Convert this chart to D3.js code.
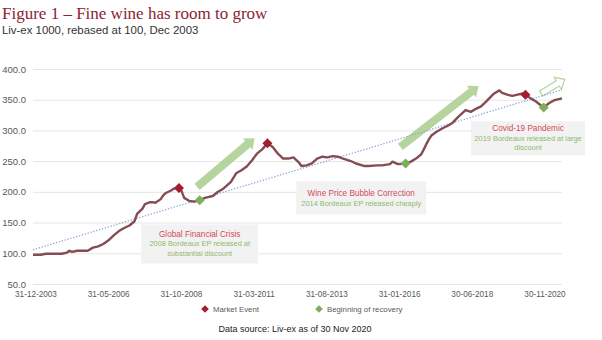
<!DOCTYPE html>
<html>
<head>
<meta charset="utf-8">
<script src="https://cdn.jsdelivr.net/npm/d3@7"></script>
<style>
  body { margin: 0; background: #fff; }
  svg text { font-family: "Liberation Sans", Arial, sans-serif; }
</style>
</head>
<body>
<svg id="chart" width="602" height="340"></svg>
<script>
// Liv-ex 1000 monthly readings (month, index value)
const months = ["2003-12","2004-03","2004-05","2004-11","2005-01","2005-02","2005-03","2005-05","2005-09","2005-11",
  "2006-01","2006-03","2006-05","2006-07","2006-09","2006-11","2007-01","2007-03","2007-04","2007-06",
  "2007-07","2007-09","2007-10","2007-11","2008-01","2008-02","2008-03","2008-05","2008-06","2008-08",
  "2008-09","2008-10","2008-12","2009-02","2009-04","2009-06","2009-09","2009-11","2010-01","2010-04",
  "2010-06","2010-08","2010-10","2010-12","2011-02","2011-04","2011-06","2011-08","2011-10","2011-12",
  "2012-02","2012-04","2012-06","2012-07","2012-09","2012-11","2013-01","2013-03","2013-05","2013-07",
  "2013-09","2013-11","2014-02","2014-04","2014-07","2014-09","2014-12","2015-02","2015-05","2015-06",
  "2015-08","2015-11","2016-01","2016-03","2016-05","2016-06","2016-07","2016-08","2016-09","2016-11",
  "2017-01","2017-03","2017-05","2017-07","2017-08","2017-10","2017-12","2018-02","2018-04","2018-06",
  "2018-08","2018-09","2018-11","2018-12","2019-02","2019-04","2019-06","2019-08","2019-09","2019-11",
  "2020-01","2020-04","2020-06","2020-08","2020-09","2020-11"];
const values = [98.5,98.5,100,100,102,105,103,105,105,110,
  112,116,122,130,137,142,146,153,165,173,
  181,184,184,183,189,195,199,203,206,207,
  202,191,186,185,187,191,194,201,206,217,
  231,236,242,252,263,270,280,274,263,255,
  255,257,249,243,244,247,255,258,257,259,
  258,255,251,247,243,243,244,244,246,250,
  246,247,250,255,262,270,279,287,293,299,
  304,308,313,322,326,334,331,336,340,348,
  357,361,366,362,359,357,359,361,359,353,
  348,338,345,350,351,353];

const marketEvents = ["2008-08","2011-06","2019-09"];
const recoveries = ["2009-04","2015-11","2020-04"];

// trend line end points
const trendMonths = ["2003-12","2020-11"];
const trendValues = [106.5,367];

const yTicks = [50,100,150,200,250,300,350,400];
const xTickLabels = ["31-12-2003","31-05-2006","31-10-2008","31-03-2011","31-08-2013","31-01-2016","30-06-2018","30-11-2020"];

// growth arrows: [tail month, tail value, tip month, tip value, hollow]
const arrows = [
  ["2009-03",209,"2011-01",288,false],
  ["2015-09",274,"2018-03",373,false],
  ["2020-03",361,"2020-12",384,true]
];

const notes = [
  { month: "2009-04", value: 116, w: 117, h: 39, title: "Global Financial Crisis",
    lines: ["2008 Bordeaux EP released at", "substantial discount"] },
  { month: "2014-06", value: 191, w: 130, h: 33, title: "Wine Price Bubble Correction",
    lines: ["2014 Bordeaux EP released cheaply"] },
  { month: "2019-10", value: 288, w: 114, h: 34, title: "Covid-19 Pandemic",
    lines: ["2019 Bordeaux  released at large", "discount"] }
];

const monthEnd = s => d3.timeDay.offset(d3.timeMonth.offset(d3.timeParse("%Y-%m")(s), 1), -1);
const parseTick = d3.timeParse("%d-%m-%Y");

const svg = d3.select("#chart");

const x = d3.scaleTime()
  .domain([parseTick(xTickLabels[0]), parseTick(xTickLabels[xTickLabels.length - 1])])
  .range([33, 562]);
const y = d3.scaleLinear().domain([50, 400]).range([284.5, 69.5]);
// category labels are spread evenly, slightly narrower than the plot
const xLabel = d3.scalePoint().domain(xTickLabels).range([36, 545]);

const series = months.map((m, i) => ({ date: monthEnd(m), value: values[i] }));
const valueAt = m => series.find(d => +d.date === +monthEnd(m)).value;

// title
svg.append("text")
  .attr("x", 2).attr("y", 19)
  .style("font-family", "'Liberation Serif', 'DejaVu Serif', serif")
  .style("font-size", "17px")
  .attr("fill", "#8c2434")
  .text("Figure 1 \u2013 Fine wine has room to grow");

svg.append("text")
  .attr("x", 2).attr("y", 34)
  .style("font-size", "11.4px")
  .attr("fill", "#333")
  .text("Liv-ex 1000, rebased at 100, Dec 2003");

// grid
svg.append("g")
  .selectAll("line")
  .data(yTicks)
  .enter().append("line")
  .attr("x1", 33).attr("x2", 562)
  .attr("y1", d => y(d)).attr("y2", d => y(d))
  .attr("stroke", "#e6e6e6")
  .attr("stroke-width", 1);

svg.append("g")
  .selectAll("text")
  .data(yTicks)
  .enter().append("text")
  .attr("x", 26)
  .attr("y", d => y(d) + 3)
  .attr("text-anchor", "end")
  .style("font-size", "9.5px")
  .attr("fill", "#595959")
  .text(d3.format(".1f"));

svg.append("g")
  .selectAll("text")
  .data(xTickLabels)
  .enter().append("text")
  .attr("x", d => xLabel(d))
  .attr("y", 297)
  .attr("text-anchor", "middle")
  .style("font-size", "8.2px")
  .attr("fill", "#595959")
  .text(d => d);

// annotation boxes
notes.forEach(n => {
  const cx = x(monthEnd(n.month)), cy = y(n.value);
  const g = svg.append("g");
  g.append("rect")
    .attr("x", cx - n.w / 2).attr("y", cy - n.h / 2)
    .attr("width", n.w).attr("height", n.h)
    .attr("fill", "#f2f2f2");
  const all = [n.title].concat(n.lines);
  const top = cy - (all.length - 1) * 9.5 / 2 - (all.length > 2 ? 0.5 : 0);
  all.forEach((t, i) => {
    g.append("text")
      .attr("x", cx)
      .attr("y", top + i * 9.5 + 3)
      .attr("text-anchor", "middle")
      .style("font-size", i === 0 ? "8.2px" : "7.4px")
      .attr("fill", i === 0 ? "#d44a58" : "#8fba6f")
      .text(t);
  });
});

// arrows
function arrowPath(x0, y0, x1, y1, w, hw, hl) {
  const len = Math.hypot(x1 - x0, y1 - y0);
  const ux = (x1 - x0) / len, uy = (y1 - y0) / len;
  const nx = -uy, ny = ux;
  const bx = x1 - ux * hl, by = y1 - uy * hl;
  const pts = [
    [x0 + nx * w, y0 + ny * w], [bx + nx * w, by + ny * w], [bx + nx * hw, by + ny * hw],
    [x1, y1],
    [bx - nx * hw, by - ny * hw], [bx - nx * w, by - ny * w], [x0 - nx * w, y0 - ny * w]
  ];
  return "M" + pts.map(p => p.join(",")).join("L") + "Z";
}

arrows.forEach(a => {
  const p = arrowPath(x(monthEnd(a[0])), y(a[1]), x(monthEnd(a[2])), y(a[3]),
    a[4] ? 3 : 4, a[4] ? 7 : 7.5, a[4] ? 8 : 9);
  svg.append("path")
    .attr("d", p)
    .attr("fill", a[4] ? "#fff" : "#b5d49e")
    .attr("stroke", a[4] ? "#b5d49e" : "none")
    .attr("stroke-width", 1.2);
});

// trend
svg.append("line")
  .attr("x1", x(monthEnd(trendMonths[0]))).attr("y1", y(trendValues[0]))
  .attr("x2", x(monthEnd(trendMonths[1]))).attr("y2", y(trendValues[1]))
  .attr("stroke", "#8ea6d6")
  .attr("stroke-width", 1.3)
  .attr("stroke-dasharray", "1.3,1.7");

// index line
svg.append("path")
  .datum(series)
  .attr("fill", "none")
  .attr("stroke", "#864c53")
  .attr("stroke-width", 2.4)
  .attr("stroke-linejoin", "round")
  .attr("d", d3.line().x(d => x(d.date)).y(d => y(d.value)));

const diamond = d3.symbol().type(d3.symbolSquare).size(50);

svg.append("g")
  .selectAll("path")
  .data(marketEvents)
  .enter().append("path")
  .attr("d", diamond)
  .attr("transform", d => `translate(${x(monthEnd(d))},${y(valueAt(d))}) rotate(45)`)
  .attr("fill", "#a31d2e");

svg.append("g")
  .selectAll("path")
  .data(recoveries)
  .enter().append("path")
  .attr("d", diamond)
  .attr("transform", d => `translate(${x(monthEnd(d))},${y(valueAt(d))}) rotate(45)`)
  .attr("fill", "#7fae5a");

// legend
const legendItems = [["Market Event", "#a31d2e", 205], ["Beginning of recovery", "#7fae5a", 319]];
const legendSym = d3.symbol().type(d3.symbolSquare).size(30);
legendItems.forEach(l => {
  svg.append("path")
    .attr("d", legendSym)
    .attr("transform", `translate(${l[2]},309) rotate(45)`)
    .attr("fill", l[1]);
  svg.append("text")
    .attr("x", l[2] + 8).attr("y", 312)
    .style("font-size", "7.8px")
    .attr("fill", "#595959")
    .text(l[0]);
});

svg.append("text")
  .attr("x", 295).attr("y", 332)
  .attr("text-anchor", "middle")
  .style("font-size", "9px")
  .attr("fill", "#222")
  .text("Data source: Liv-ex as of 30 Nov 2020");
</script>
</body>
</html>
